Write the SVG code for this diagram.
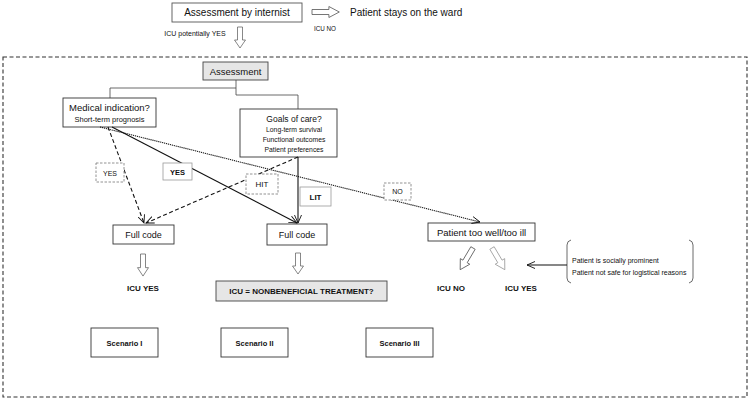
<svg xmlns="http://www.w3.org/2000/svg" width="750" height="400" viewBox="0 0 750 400">
<style>
text{font-family:"Liberation Sans",Arial,sans-serif;fill:#111;text-anchor:middle}
.box{fill:#fff;stroke:#333;stroke-width:0.9}
.gbox{fill:#e6e6e6;stroke:#444;stroke-width:0.9}
.lbl{fill:#fff;stroke:#999;stroke-width:0.8}
.dlbl{fill:#fff;stroke:#777;stroke-width:0.8;stroke-dasharray:2.5,1.5}
.b{font-weight:bold}
.tree{fill:none;stroke:#444;stroke-width:0.8}
.harrow{fill:#fff;stroke:#555;stroke-width:0.7}
.con{fill:none;stroke:#111;stroke-width:1.1}
</style>
<defs>
<marker id="ah" markerUnits="userSpaceOnUse" markerWidth="10" markerHeight="8" refX="8" refY="4" orient="auto">
<path d="M0,0.5 L8,4 L0,7.5" fill="none" stroke="#111" stroke-width="0.9"/>
</marker>
<path id="hdown" d="M-2.5,0 H2.5 V13 H5.5 L0,21 L-5.5,13 H-2.5 Z"/>
</defs>

<!-- outer dashed frame -->
<rect x="3" y="57" width="744" height="340" fill="none" stroke="#333" stroke-width="1.1" stroke-dasharray="4,2.5"/>

<g id="internist">
<rect x="172" y="3" width="130" height="19" fill="#fff" stroke="#555" stroke-width="0.9"/>
<text x="237" y="16" font-size="10">Assessment by internist</text>
</g>
<g id="ward">
<text x="350" y="16" font-size="10" style="text-anchor:start">Patient stays on the ward</text>
</g>
<g id="top-labels">
<text x="325" y="31" font-size="6.3">ICU NO</text>
<text x="195" y="36" font-size="7">ICU potentially YES</text>
</g>

<g id="assessment">
<rect class="gbox" x="203" y="62" width="65" height="18"/>
<text x="235.5" y="74.5" font-size="9.5">Assessment</text>
</g>

<g id="medical">
<rect class="box" x="63" y="98" width="93" height="29"/>
<text x="109.5" y="111" font-size="9.5">Medical indication?</text>
<text x="109.5" y="122" font-size="7.5">Short-term prognosis</text>
</g>

<g id="goals">
<rect class="box" x="240" y="109" width="97" height="48"/>
<text x="294" y="121.5" font-size="8.5">Goals of care?</text>
<text x="294" y="131.5" font-size="6.8">Long-term survival</text>
<text x="294" y="141.5" font-size="6.8">Functional outcomes</text>
<text x="294" y="151.5" font-size="6.8">Patient preferences</text>
</g>

<g id="fullcode1">
<rect class="box" x="113" y="225" width="61" height="19"/>
<text x="143.5" y="238" font-size="9">Full code</text>
</g>
<g id="fullcode2">
<rect class="box" x="267" y="224" width="60" height="21"/>
<text x="297" y="238" font-size="9">Full code</text>
</g>
<g id="toowell">
<rect class="box" x="428" y="223" width="107" height="18"/>
<text x="481.5" y="235.5" font-size="9.5">Patient too well/too ill</text>
</g>

<g id="icuyes1"><text class="b" x="143" y="291" font-size="8">ICU YES</text></g>
<g id="nonbeneficial">
<rect class="gbox" x="216" y="281" width="171" height="20"/>
<text class="b" x="301.5" y="294" font-size="8">ICU = NONBENEFICIAL TREATMENT?</text>
</g>
<g id="icuno3"><text class="b" x="451" y="291" font-size="8">ICU NO</text></g>
<g id="icuyes3"><text class="b" x="521" y="291" font-size="8">ICU YES</text></g>

<g id="reasons">
<path d="M571,240 Q567,241 567,245 V278 Q567,282 571,283" fill="none" stroke="#444" stroke-width="0.8"/>
<path d="M689,240 Q693,241 693,245 V278 Q693,282 689,283" fill="none" stroke="#444" stroke-width="0.8"/>
<text x="572" y="262.5" font-size="7" style="text-anchor:start">Patient is socially prominent</text>
<text x="572" y="274.5" font-size="7" style="text-anchor:start">Patient not safe for logistical reasons</text>
</g>

<g id="scenario1">
<rect class="box" x="91" y="328" width="67" height="29"/>
<text class="b" x="124.5" y="345.5" font-size="7.5">Scenario I</text>
</g>
<g id="scenario2">
<rect class="box" x="221" y="328" width="67" height="29"/>
<text class="b" x="254.5" y="345.5" font-size="7.5">Scenario II</text>
</g>
<g id="scenario3">
<rect class="box" x="366" y="328" width="67" height="29"/>
<text class="b" x="399.5" y="345.5" font-size="7.5">Scenario III</text>
</g>

<g id="connectors">
<path class="tree" d="M236,80 V95 H298 V109 M236,88 H110 V98"/>
<use href="#hdown" class="harrow" transform="translate(312,12) rotate(-90) scale(1,1.3)"/>
<use href="#hdown" class="harrow" transform="translate(240,27)"/>
<use href="#hdown" class="harrow" transform="translate(143,254) scale(1,1.05)"/>
<use href="#hdown" class="harrow" transform="translate(298,253)"/>
<use href="#hdown" class="harrow" transform="translate(473,248) rotate(30.6) scale(1,1.2)"/>
<use href="#hdown" class="harrow" style="stroke:#999" transform="translate(492,248) rotate(-30.6) scale(1,1.2)"/>
<line class="con" x1="112" y1="127" x2="297" y2="223" marker-end="url(#ah)"/>
<line class="con" x1="108" y1="127" x2="144" y2="223" stroke-dasharray="4,2.5" marker-end="url(#ah)"/>
<line class="con" x1="298" y1="157" x2="146" y2="223" stroke-dasharray="4,2.5" marker-end="url(#ah)"/>
<line class="con" x1="298" y1="157" x2="298" y2="223" marker-end="url(#ah)"/>
<line class="con" x1="100" y1="127" x2="480" y2="222" stroke-width="0.9" stroke-dasharray="1.2,0.8" marker-end="url(#ah)"/>
<line class="con" x1="567" y1="265" x2="527" y2="265" stroke-width="0.9" marker-end="url(#ah)"/>
</g>

<g id="label-yes-dashed">
<rect class="dlbl" x="96" y="163" width="28" height="19"/>
<text x="110" y="175.5" font-size="7">YES</text>
</g>
<g id="label-yes">
<rect class="lbl" x="163" y="163" width="29" height="17"/>
<text class="b" x="177.5" y="174.5" font-size="7.5">YES</text>
</g>
<g id="label-hit">
<rect class="dlbl" x="246" y="174" width="32" height="20"/>
<text x="262" y="187" font-size="8">HIT</text>
</g>
<g id="label-lit">
<rect class="lbl" x="300" y="187" width="31" height="19"/>
<text class="b" x="315.5" y="199.5" font-size="8">LIT</text>
</g>
<g id="label-no">
<rect class="dlbl" x="384" y="183" width="27" height="17"/>
<text x="397.5" y="194" font-size="7">NO</text>
</g>
</svg>
